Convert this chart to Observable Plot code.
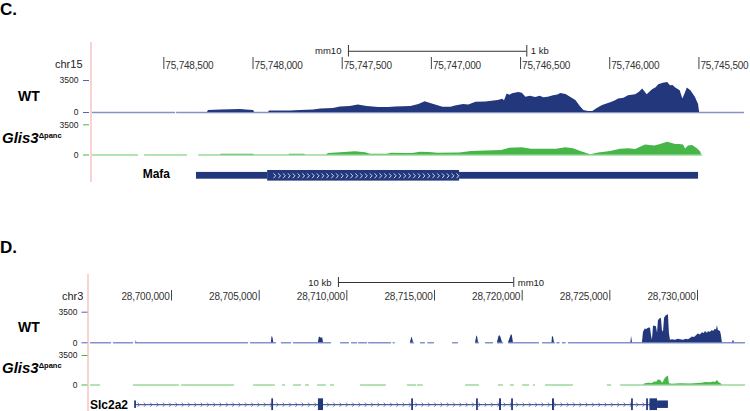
<!DOCTYPE html>
<html><head><meta charset="utf-8">
<script src="https://cdn.jsdelivr.net/npm/d3@7"></script>
<script src="https://cdn.jsdelivr.net/npm/@observablehq/plot@0.6"></script>
<style>
html,body{margin:0;padding:0;background:#fff;}
#fig{position:relative;width:750px;height:411px;overflow:hidden;font-family:"Liberation Sans",Arial,sans-serif;}
</style></head><body><div id="fig"></div>
<script>
// ---------------- DATA ----------------
const panelLabels = ["C.", "D."];
const chromosomes = ["chr15", "chr3"];
const trackNames = ["WT", "Glis3"];
const trackSup = "\u0394panc";
const geneNames = ["Mafa", "Slc2a2"];
const assembly = "mm10";
const yTicks = [0, 3500];

// Panel C (chr15, shown reversed)
const cDomain = [75748900, 75745250];
const cTicks = [75748500, 75748000, 75747500, 75747000, 75746500, 75746000, 75745500];
const cScaleBar = [75747465, 75746465];
const cScaleLabel = "1 kb";
// [position, coverage] ; null = no data
const cWT = [[75748900,0],[75748440,0],[75748434,null],[75748428,0],[75748255,0],[75748250,220],[75748180,270],[75748070,330],[75748040,270],[75747997,220],[75747991,0],
[75747913,0],[75747907,160],[75747790,160],[75747733,220],[75747660,270],[75747620,380],[75747550,430],[75747510,600],[75747455,650],[75747410,830],[75747360,650],[75747295,540],[75747240,560],[75747200,600],[75747115,650],[75747070,870],[75747035,1170],[75746995,920],[75746935,575],[75746890,575],[75746865,700],[75746820,870],[75746790,820],[75746750,1120],[75746695,1140],[75746625,1300],[75746600,1460],[75746590,1280],[75746575,2030],[75746560,1900],[75746545,2060],[75746510,2200],[75746490,2110],[75746470,1660],[75746445,1790],[75746415,1630],[75746390,1790],[75746370,1600],[75746345,1680],[75746315,1840],[75746290,1910],[75746275,2090],[75746245,1980],[75746220,1680],[75746190,1300],[75746165,650],[75746145,220],[75746120,110],[75746095,110],[75746070,430],[75746040,760],[75745995,1080],[75745970,1250],[75745950,1490],[75745920,1570],[75745895,1840],[75745855,1950],[75745835,2200],[75745815,2570],[75745790,1950],[75745760,2490],[75745740,2700],[75745725,3040],[75745700,3200],[75745675,3290],[75745660,2930],[75745645,2950],[75745630,2680],[75745605,2390],[75745590,1490],[75745575,2170],[75745565,2680],[75745545,2390],[75745520,1660],[75745502,870],[75745496,0],[75745250,0]];
const cGlis3 = [[75748900,0],[75748647,0],[75748628,null],[75748608,0],[75748373,0],[75748340,null],[75748305,0],[75748182,0],[75748177,80],[75747997,80],[75747991,0],
[75747800,0],[75747795,90],[75747711,90],[75747705,0],[75747588,0],[75747577,170],[75747509,270],[75747425,380],[75747369,270],[75747341,80],[75747246,80],[75747223,200],[75747150,170],[75747105,170],[75747061,310],[75747010,290],[75746965,200],[75746842,230],[75746775,410],[75746696,460],[75746606,520],[75746561,780],[75746528,810],[75746489,850],[75746439,660],[75746360,660],[75746298,660],[75746247,850],[75746203,730],[75746158,380],[75746107,35],[75746062,230],[75745995,410],[75745939,660],[75745894,730],[75745855,640],[75745821,960],[75745799,1160],[75745748,1040],[75745715,1220],[75745676,1470],[75745659,1390],[75745631,1220],[75745608,1220],[75745586,1160],[75745575,700],[75745558,1040],[75745535,1100],[75745507,700],[75745490,350],[75745485,0]];
// Mafa gene model [start, end, kind]
const mafaParts = [[75748317,75747918,"utr"],[75747918,75746842,"cds"],[75746842,75745502,"utr"]];

// Panel D (chr3)
const dDomain = [28695380, 28732680];
const dTicks = [28700000, 28705000, 28710000, 28715000, 28720000, 28725000, 28730000];
const dScaleBar = [28709520, 28719520];
const dScaleLabel = "10 kb";
const dWT = [[28695380,0],[28696521,0],[28696610,null],[28696692,0],[28697776,0],[28697860,null],[28697947,0],[28697975,0],[28697995,300],[28698020,0],[28704334,0],[28704420,null],[28704505,0],
[28705700,0],[28705730,700],[28705770,650],[28705800,450],[28705830,0],[28705930,0],[28706100,null],[28706270,0],[28706790,0],[28706870,null],[28706960,0],
[28708380,0],[28708420,550],[28708470,650],[28708560,500],[28708620,600],[28708670,0],[28709070,0],[28709350,null],[28709640,0],[28710090,0],[28710180,null],[28710270,0],[28710550,0],[28710610,null],[28710670,0],[28711120,0],[28711180,null],[28711240,0],[28712490,0],[28712570,null],[28712640,0],[28712700,0],[28713200,null],
[28713630,0],[28713710,650],[28713750,450],[28713800,0],[28713990,null],[28714200,0],[28714420,0],[28714520,null],[28714620,0],[28714940,0],[28715400,null],[28716030,0],[28716310,0],[28716800,null],
[28717340,0],[28717420,800],[28717460,650],[28717510,0],[28717700,null],[28717910,0],[28718310,0],[28718450,null],
[28718590,0],[28718680,750],[28718740,800],[28718790,600],[28718880,0],[28719050,null],[28719220,0],[28719390,950],[28719440,800],[28719500,0],[28720930,0],[28721040,null],
[28721160,0],[28721700,0],[28721730,750],[28721790,600],[28721840,0],[28721900,null],[28721980,0],[28722100,0],[28722200,null],[28722300,0],[28722450,0],[28722550,null],[28722640,0],[28726200,0],[28726240,750],[28726290,0],
[28726860,0],[28726920,1200],[28727030,1600],[28727090,1500],[28727200,1650],[28727320,1700],[28727370,900],[28727430,300],[28727490,1900],[28727600,1900],[28727660,1800],[28727720,1100],[28727770,2500],[28727830,2700],[28727940,2800],[28728000,1400],[28728060,1200],[28728120,2800],[28728230,3150],[28728290,3100],[28728340,3300],[28728400,1000],[28728460,300],[28728570,350],[28728740,300],[28728910,400],[28729030,350],[28729200,300],[28729370,400],[28729480,350],[28729600,500],[28729710,650],[28729830,600],[28729940,800],[28730050,1000],[28730170,900],[28730280,1150],[28730390,1050],[28730450,1300],[28730570,1100],[28730620,1250],[28730740,1200],[28730850,1400],[28730910,1300],[28731020,1550],[28731080,1450],[28731140,1950],[28731190,1400],[28731310,1300],[28731360,850],[28731420,0],[28731990,0],[28732050,300],[28732110,0],[28732680,0]];
const dGlis3 = [[28695380,0],[28695890,0],[28696500,null],[28697830,0],[28700400,0],[28700480,null],[28700570,0],[28703540,0],[28704000,null],[28704680,0],[28705870,0],[28706100,null],[28706330,0],[28706450,0],[28706700,null],[28706960,0],[28707360,0],[28707500,null],[28707640,0],[28707810,0],[28708000,null],[28708330,0],[28708780,0],[28708900,null],[28709070,0],[28709240,0],[28710000,null],[28710780,0],[28712200,0],[28712800,null],[28713460,0],[28713920,0],[28713970,null],[28714030,0],[28714310,0],[28715500,null],[28716770,0],[28717510,0],[28718000,null],[28718650,0],[28718880,0],[28719100,null],[28719330,0],[28719500,0],[28719750,null],[28720020,0],[28720360,0],[28720500,null],[28720640,0],[28720700,0],[28721000,null],[28721330,0],[28722870,0],[28723800,null],[28724860,0],[28725040,0],[28725300,null],
[28725610,0],[28726920,0],[28727030,150],[28727200,200],[28727430,180],[28727550,350],[28727600,400],[28727660,300],[28727770,600],[28727890,550],[28727940,450],[28728000,200],[28728060,350],[28728170,800],[28728290,1000],[28728340,1080],[28728400,150],[28728570,100],[28729030,150],[28729600,120],[28730050,180],[28730280,200],[28730450,300],[28730740,280],[28730910,350],[28731020,300],[28731140,520],[28731250,250],[28731310,200],[28731420,0],[28732680,0]];
// Slc2a2 gene model
const slc2a2Span = [28697920, 28728340];
const slc2a2Exons = [[28697900,28698000,"utr"],[28705720,28705820,"cds"],[28708380,28708670,"cds"],[28713700,28713800,"cds"],[28717400,28717500,"cds"],[28718710,28718820,"cds"],[28719400,28719500,"cds"],[28721730,28721840,"cds"],[28726240,28726340,"cds"],[28727100,28727200,"cds"],[28727290,28727720,"cds"],[28727720,28728340,"utr"]];

// ---------------- STYLE / LAYOUT ----------------
const navy = "#23377d", green = "#47b649";
const lightBlue = "#8493cc", lightGreen = "#9ad99a";
const font = "'Liberation Sans', Arial, sans-serif";
const fig = document.getElementById("fig");
const W = 750;
const baseStyle = {background: "transparent", overflow: "visible", fontFamily: font, color: "#222"};
const fmt = d3.format(",");
const half = {cds: 1, utr: 0.64};
const chevron = {draw(ctx, size) { const r = Math.sqrt(size / Math.PI); ctx.moveTo(-r * 0.45, -r); ctx.lineTo(r * 0.45, 0); ctx.lineTo(-r * 0.45, r); }};

function place(svg, top) {
  svg.style.position = "absolute"; svg.style.left = "0px"; svg.style.top = top + "px";
  fig.appendChild(svg);
}

// overlay for panel letters, labels, pink guide lines
const ov = d3.select(fig).append("svg").attr("width", W).attr("height", 411)
  .style("position", "absolute").style("left", 0).style("top", 0).style("font-family", font);
function label(x, y, txt, size, weight, opts = {}) {
  const t = ov.append("text").attr("x", x).attr("y", y).attr("font-size", size).attr("font-weight", weight || "normal")
    .attr("fill", opts.fill || "#000").attr("text-anchor", opts.anchor || "start").text(txt);
  if (opts.italic) t.attr("font-style", "italic");
  return t;
}
function glisLabel(x, y) {
  const t = ov.append("text").attr("x", x).attr("y", y).attr("font-weight", "bold");
  t.append("tspan").attr("font-size", 15).attr("font-style", "italic").text(trackNames[1]);
  t.append("tspan").attr("font-size", 7.5).attr("dy", -5).text(trackSup);
}

const panels = [
  {letterY: 15, chrX: 55, chrY: 68.3, pinkX: 91, pinkY: [42, 182],
   domain: cDomain, range: [92, 743], ticks: cTicks, tickSide: "start",
   ruler: [57, 12], scale: [44.5, 11.5], bar: cScaleBar, barLeft: assembly, barRight: cScaleLabel,
   axisAt: 89, pad: 5,
   tracks: [
     {data: cWT, top: 76, h: 40, zero: 112, y3500: 80, color: navy, light: lightBlue, tick: "#5064b4", labelY: 100.5},
     {data: cGlis3, top: 120, h: 40, zero: 154.5, y3500: 124.3, color: green, light: lightGreen, tick: green, labelY: 143}],
   gene: {name: geneNames[0], nameX: 170, nameY: 178, top: 168, h: 15, center: 7.3, halfPx: 5.3, parts: mafaParts}},
  {letterY: 253.3, chrX: 62, chrY: 300, pinkX: 88, pinkY: [274, 411],
   domain: dDomain, range: [90, 744], ticks: dTicks, tickSide: "end",
   ruler: [290, 10.5], scale: [276.7, 10], bar: dScaleBar, barLeft: dScaleLabel, barRight: assembly,
   axisAt: 87.5, pad: 4.5,
   tracks: [
     {data: dWT, top: 306, h: 40, zero: 342.3, y3500: 311.7, color: navy, light: lightBlue, tick: "#5064b4", labelY: 332},
     {data: dGlis3, top: 350, h: 40, zero: 384.5, y3500: 355, color: green, light: lightGreen, tick: green, labelY: 373}],
   gene: {name: geneNames[1], nameX: 90, nameY: 409, top: 397, h: 14, center: 7.2, halfPx: 5.85, parts: slc2a2Exons, span: slc2a2Span}}
];

panels.forEach((p, pi) => {
  const xs = {domain: p.domain, range: p.range, axis: null};
  // pink guide
  ov.append("line").attr("x1", p.pinkX).attr("x2", p.pinkX).attr("y1", p.pinkY[0]).attr("y2", p.pinkY[1])
    .attr("stroke", "#f7c4c4").attr("stroke-width", 1.5);
  label(0, p.letterY, panelLabels[pi], 17, "bold");
  label(p.chrX, p.chrY, chromosomes[pi], 11, "normal", {fill: "#222"});

  // scale bar
  place(Plot.plot({width: W, height: p.scale[1], margin: 0, x: xs,
    y: {domain: [-1, 1], axis: null}, style: baseStyle,
    marks: [
      Plot.ruleY([0], {x1: p.bar[0], x2: p.bar[1], stroke: "#333", strokeWidth: 1}),
      Plot.ruleX(p.bar, {stroke: "#333", strokeWidth: 1}),
      Plot.text([p.bar[0]], {x: d => d, y: 0, text: () => p.barLeft, textAnchor: "end", dx: -7, fontSize: 9.5, fill: "#222"}),
      Plot.text([p.bar[1]], {x: d => d, y: 0, text: () => p.barRight, textAnchor: "start", dx: 4, fontSize: 9.5, fill: "#222"})
    ]}), p.scale[0]);

  // ruler
  place(Plot.plot({width: W, height: p.ruler[1], margin: 0, x: xs,
    style: {...baseStyle, letterSpacing: "-0.2px"},
    marks: [
      Plot.ruleX(p.ticks, {stroke: "#444", strokeWidth: 1}),
      Plot.text(p.ticks, {x: d => d, text: d => fmt(d), frameAnchor: "bottom", lineAnchor: "bottom",
        textAnchor: p.tickSide, dx: p.tickSide === "start" ? 1.5 : -2, dy: -0.6, fontSize: 10, fill: "#333"})
    ]}), p.ruler[0]);

  // coverage tracks
  p.tracks.forEach((t, ti) => {
    place(Plot.plot({width: W, height: t.h, marginTop: 0, marginRight: 0, marginBottom: 0, marginLeft: p.axisAt,
      x: xs, y: {domain: [0, 3500], range: [t.zero - t.top, t.y3500 - t.top], axis: null}, style: baseStyle,
      marks: [
        Plot.lineY(t.data, {x: d => d[0], y: d => d[1] == null ? NaN : 0, stroke: t.light, strokeWidth: 1.4}),
        Plot.areaY(t.data, {x: d => d[0], y1: d => d[1] == null ? NaN : 0, y2: d => d[1] == null ? NaN : d[1], fill: t.color}),
        Plot.axisY(yTicks, {anchor: "left", tickSize: 6, tickPadding: p.pad, stroke: t.tick, fill: "#222", fontSize: 8.5, tickFormat: d => String(d)})
      ]}), t.top);
    if (ti === 0) label(18, t.labelY, trackNames[0], 14, "bold");
    else glisLabel(2, t.labelY);
  });

  // gene track
  const g = p.gene;
  const marks = [];
  if (g.span) {
    const step = 360;
    marks.push(Plot.ruleY([0], {x1: g.span[0], x2: g.span[1], stroke: navy, strokeWidth: 1}));
    marks.push(Plot.dot(d3.range(g.span[0] + 200, g.span[1] - 100, step), {x: d => d, y: 0, symbol: chevron, r: 2.1, stroke: "#4a5ca6", fill: "none", strokeWidth: 0.8}));
  }
  marks.push(Plot.rect(g.parts, {x1: d => d[0], x2: d => d[1], y1: d => -half[d[2]], y2: d => half[d[2]], fill: navy}));
  if (!g.span) {
    const cds = g.parts.find(d => d[2] === "cds");
    marks.push(Plot.dot(d3.range(cds[0] - 39, cds[1] + 8, -27), {x: d => d, y: 0, symbol: chevron, r: 2.4, stroke: "white", fill: "none", strokeWidth: 0.8}));
  }
  place(Plot.plot({width: W, height: g.h, margin: 0, x: xs,
    y: {domain: [-1, 1], range: [g.center + g.halfPx, g.center - g.halfPx], axis: null}, style: baseStyle, marks}), g.top);
  label(g.nameX, g.nameY, g.name, 12, "bold", {anchor: pi === 0 ? "end" : "start"});
});
</script></body></html>
